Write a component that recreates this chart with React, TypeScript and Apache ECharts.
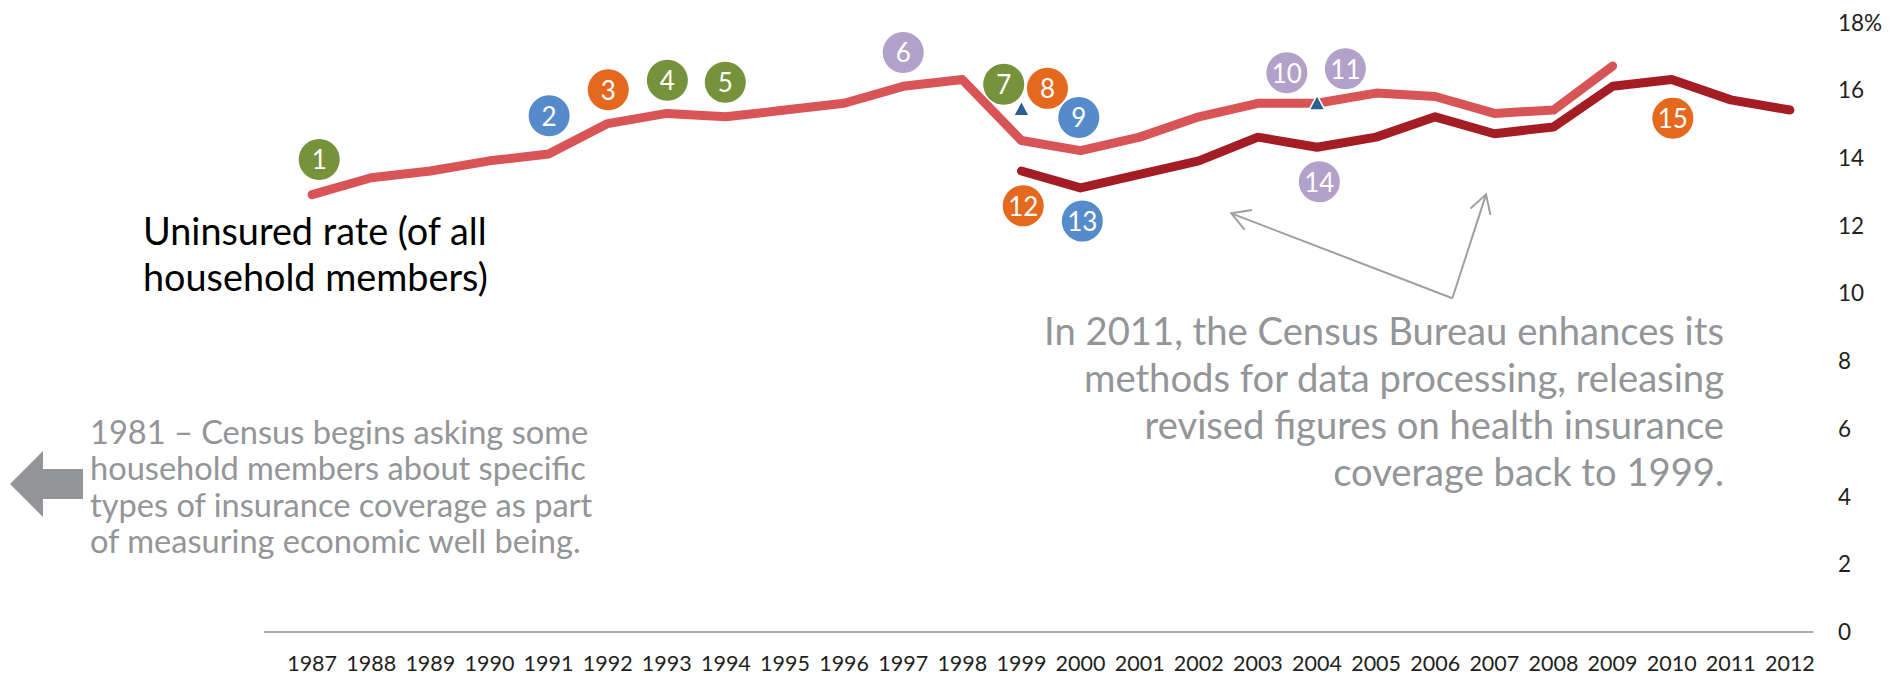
import { useEffect, useRef } from "react";
import * as echarts from "echarts";

const FONT = "Lato, 'Open Sans', sans-serif";

// Uninsured rate, original method (1987-2009)
const oldYears = [1987, 1988, 1989, 1990, 1991, 1992, 1993, 1994, 1995, 1996, 1997, 1998, 1999, 2000, 2001, 2002, 2003, 2004, 2005, 2006, 2007, 2008, 2009];
const oldRates = [12.9, 13.4, 13.6, 13.9, 14.1, 15.0, 15.3, 15.2, 15.4, 15.6, 16.1, 16.3, 14.5, 14.2, 14.6, 15.2, 15.6, 15.6, 15.9, 15.8, 15.3, 15.4, 16.7];

// Uninsured rate, revised method (1999-2012)
const revisedYears = [1999, 2000, 2001, 2002, 2003, 2004, 2005, 2006, 2007, 2008, 2009, 2010, 2011, 2012];
const revisedRates = [13.6, 13.1, 13.5, 13.9, 14.6, 14.3, 14.6, 15.2, 14.7, 14.9, 16.1, 16.3, 15.7, 15.4];

// Numbered event markers
const eventLabels = ["1", "2", "3", "4", "5", "6", "7", "8", "9", "10", "11", "12", "13", "14", "15"];
const eventYears = [1987.12, 1991.01, 1992.01, 1993.01, 1993.99, 1997.0, 1998.7, 1999.44, 1999.97, 2003.49, 2004.48, 1999.03, 2000.03, 2004.04, 2010.02];
const eventLevels = [13.94, 15.23, 16.0, 16.28, 16.22, 17.1, 16.16, 16.04, 15.18, 16.5, 16.62, 12.57, 12.12, 13.28, 15.16];
const eventKinds = ["green", "blue", "orange", "green", "green", "purple", "green", "orange", "blue", "purple", "purple", "orange", "blue", "purple", "orange"];
const kindColors: Record<string, string> = {
  green: "#76923b",
  blue: "#558bcb",
  orange: "#e4691f",
  purple: "#b2a1c8",
};

// Triangle markers
const triangleYears = [1999, 2004];
const triangleLevels = [15.45, 15.62];

// Pointer arrows (tip points and shared base)
const pointerTips = [
  [2002.55, 12.35],
  [2006.86, 12.91],
];
const pointerBase = [2006.29, 9.84];

// Axis
const xMin = 1986;
const xMax = 2013;
const firstYear = 1987;
const lastYear = 2012;
const yTicksMax = 18;
const baselineRange = [1986.19, 2012.4];

export default function App() {
  const ref = useRef<HTMLDivElement>(null);

  useEffect(() => {
    if (!ref.current) return;
    const chart = echarts.init(ref.current, undefined, { renderer: "svg" });

    const option: any = {
      animation: false,
      backgroundColor: "#ffffff",
      grid: { left: 253, right: 55, top: 22, bottom: 43.5, containLabel: false },
      xAxis: {
        type: "value",
        min: xMin,
        max: xMax,
        interval: 1,
        axisLine: { show: false },
        axisTick: { show: false },
        splitLine: { show: false },
        axisLabel: {
          margin: 20,
          color: "#231f20",
          fontSize: 21.5,
          fontFamily: FONT,
          formatter: (v: number) => (v >= firstYear && v <= lastYear ? String(v) : ""),
        },
      },
      yAxis: {
        type: "value",
        position: "right",
        offset: -17,
        min: 0,
        max: yTicksMax,
        interval: 2,
        axisLine: { show: false },
        axisTick: { show: false },
        splitLine: { show: false },
        axisLabel: {
          margin: 6,
          color: "#231f20",
          fontSize: 22.5,
          fontFamily: FONT,
          formatter: (v: number) => (v === yTicksMax ? v + "%" : String(v)),
        },
      },
      series: [
        {
          type: "line",
          name: "Uninsured rate",
          data: oldYears.map((y, i) => [y, oldRates[i]]),
          showSymbol: false,
          symbol: "none",
          lineStyle: { color: "#d95456", width: 9, cap: "round", join: "round" },
          z: 2,
          markLine: {
            silent: true,
            symbol: ["none", "none"],
            label: { show: false },
            lineStyle: { color: "#a7a9ac", width: 2, type: "solid" },
            data: [[{ coord: [baselineRange[0], 0] }, { coord: [baselineRange[1], 0] }]],
          },
        },
        {
          type: "line",
          name: "Revised",
          data: revisedYears.map((y, i) => [y, revisedRates[i]]),
          showSymbol: false,
          symbol: "none",
          lineStyle: { color: "#a51d24", width: 9, cap: "round", join: "round" },
          z: 3,
        },
        {
          type: "custom",
          silent: true,
          z: 1,
          data: pointerTips.map((t) => [t[0], t[1], pointerBase[0], pointerBase[1]]),
          encode: { x: [0, 2], y: [1, 3] },
          renderItem: (_params: any, api: any) => {
            const tip = api.coord([api.value(0), api.value(1)]);
            const base = api.coord([api.value(2), api.value(3)]);
            const ang = Math.atan2(base[1] - tip[1], base[0] - tip[0]);
            const L = 21;
            const a = Math.PI / 6;
            const style = { stroke: "#9d9fa2", lineWidth: 2, fill: null };
            return {
              type: "group",
              children: [
                { type: "line", shape: { x1: base[0], y1: base[1], x2: tip[0], y2: tip[1] }, style },
                {
                  type: "polyline",
                  shape: {
                    points: [
                      [tip[0] + L * Math.cos(ang + a), tip[1] + L * Math.sin(ang + a)],
                      [tip[0], tip[1]],
                      [tip[0] + L * Math.cos(ang - a), tip[1] + L * Math.sin(ang - a)],
                    ],
                  },
                  style,
                },
              ],
            };
          },
        },
        {
          type: "scatter",
          z: 6,
          symbol: "circle",
          symbolSize: 41,
          data: eventYears.map((y, i) => ({
            value: [y, eventLevels[i]],
            itemStyle: { color: kindColors[eventKinds[i]], opacity: 1 },
            label: { formatter: eventLabels[i] },
          })),
          itemStyle: { opacity: 1 },
          label: {
            show: true,
            position: "inside",
            color: "#ffffff",
            fontSize: 26,
            fontFamily: FONT,
          },
        },
        {
          type: "scatter",
          z: 7,
          symbol: "triangle",
          symbolSize: [16, 15],
          itemStyle: { color: "#2d5f91", borderColor: "#ffffff", borderWidth: 1.5, opacity: 1 },
          data: triangleYears.map((y, i) => [y, triangleLevels[i]]),
        },
      ],
      graphic: [
        {
          type: "text",
          x: 143,
          y: 207,
          style: {
            text: "Uninsured rate (of all\nhousehold members)",
            fill: "#000000",
            font: `37.8px ${FONT}`,
            lineHeight: 46,
            verticalAlign: "top",
          },
        },
        {
          type: "text",
          x: 90,
          y: 413,
          style: {
            text: "1981 \u2013 Census begins asking some\nhousehold members about specific\ntypes of insurance coverage as part\nof measuring economic well being.",
            fill: "#939598",
            font: `32.6px ${FONT}`,
            lineHeight: 36.5,
            verticalAlign: "top",
          },
        },
        {
          type: "text",
          x: 1724,
          y: 306,
          style: {
            text: "In 2011, the Census Bureau enhances its\nmethods for data processing, releasing\nrevised figures on health insurance\ncoverage back to 1999.",
            fill: "#939598",
            font: `38.2px ${FONT}`,
            lineHeight: 47,
            align: "right",
            verticalAlign: "top",
          },
        },
        {
          type: "polygon",
          shape: {
            points: [
              [10, 484],
              [43, 451],
              [43, 469],
              [83, 469],
              [83, 499],
              [43, 499],
              [43, 517],
            ],
          },
          style: { fill: "#939598" },
        },
      ],
    };

    chart.setOption(option);
    return () => chart.dispose();
  }, []);

  return (
    <div
      ref={ref}
      style={{ position: "fixed", left: 0, top: 0, width: 1904, height: 675, background: "#fff" }}
    />
  );
}
